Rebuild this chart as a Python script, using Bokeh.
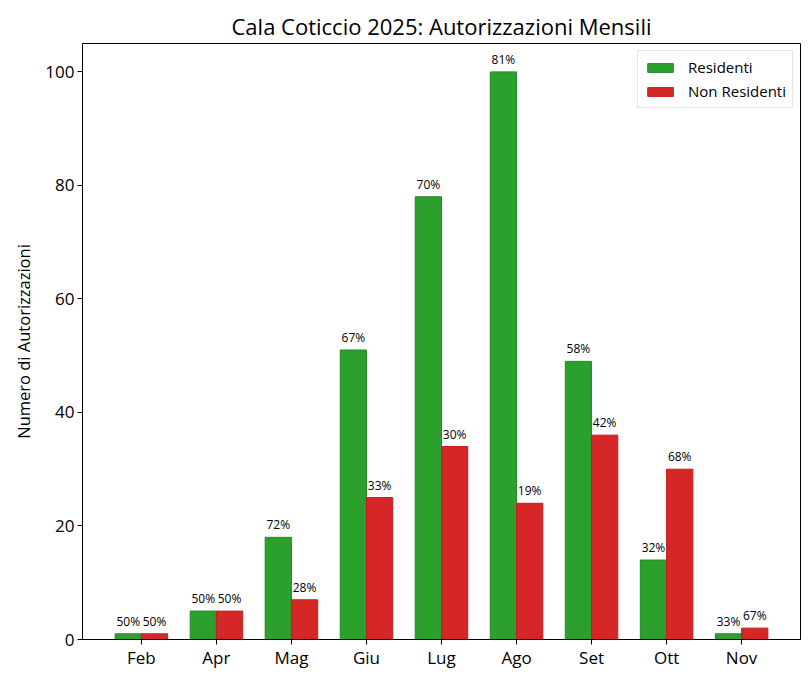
from bokeh.plotting import figure
from bokeh.models import Range1d, FixedTicker, ColumnDataSource, Legend, LegendItem
from bokeh.embed import file_html
from bokeh.resources import INLINE
from bokeh.core.properties import value

months = ["Feb", "Apr", "Mag", "Giu", "Lug", "Ago", "Set", "Ott", "Nov"]
residenti = [1, 5, 18, 51, 78, 100, 49, 14, 1]
non_residenti = [1, 5, 7, 25, 34, 24, 36, 30, 2]
y_ticks = [0, 20, 40, 60, 80, 100]

FONT = "Open Sans"
GREEN = "#2ca02c"
RED = "#d62728"
BW = 0.35

idx = list(range(len(months)))
tot = [r + n for r, n in zip(residenti, non_residenti)]
pct_r = [f"{round(r / t * 100)}%" for r, t in zip(residenti, tot)]
pct_n = [f"{round(n / t * 100)}%" for n, t in zip(non_residenti, tot)]

src_r = ColumnDataSource(dict(x=[i - BW / 2 for i in idx], top=residenti, lab=pct_r))
src_n = ColumnDataSource(dict(x=[i + BW / 2 for i in idx], top=non_residenti, lab=pct_n))

p = figure(width=802, height=678, output_backend="svg", toolbar_location=None,
           x_range=Range1d(-0.785, 8.785), y_range=Range1d(0, 105.0),
           min_border_left=82, min_border_right=2, min_border_top=43, min_border_bottom=39)

p.title.text = "Cala Coticcio 2025: Autorizzazioni Mensili"
p.title.align = "center"
p.title.text_font = FONT
p.title.text_font_size = "22px"
p.title.text_font_style = "normal"
p.title.text_color = "#000000"
p.title.standoff = 6

p.grid.visible = False
p.outline_line_color = "#000000"
p.outline_line_width = 1
p.background_fill_color = "white"
p.border_fill_color = "white"

p.xaxis.ticker = FixedTicker(ticks=idx)
p.xaxis.major_label_overrides = {i: m for i, m in enumerate(months)}
p.yaxis.ticker = FixedTicker(ticks=y_ticks)
for ax in (p.xaxis, p.yaxis):
    ax.major_tick_in = 0
    ax.major_tick_out = 5
    ax.minor_tick_line_color = None
    ax.axis_line_color = "#000000"
    ax.major_tick_line_color = "#000000"
    ax.major_label_text_font = FONT
    ax.major_label_text_font_size = "17px"
    ax.major_label_text_color = "#000000"
    ax.major_label_standoff = 3
p.xaxis.major_label_standoff = 1
p.yaxis.axis_label = "Numero di Autorizzazioni"
p.yaxis.axis_label_text_font = FONT
p.yaxis.axis_label_text_font_size = "16.5px"
p.yaxis.axis_label_text_font_style = "normal"
p.yaxis.axis_label_text_color = "#000000"
p.yaxis.axis_label_standoff = 7

r1 = p.vbar(x="x", top="top", width=BW, source=src_r, fill_color=GREEN, line_color="#238a23", line_width=1)
r2 = p.vbar(x="x", top="top", width=BW, source=src_n, fill_color=RED, line_color="#c41e1e", line_width=1)

for s in (src_r, src_n):
    p.text(x="x", y="top", text="lab", source=s, text_align="center", text_baseline="bottom",
           y_offset=-4, text_font=value(FONT), text_font_size="12px", text_color="#000000")

legend = Legend(items=[LegendItem(label="Residenti", renderers=[r1]),
                       LegendItem(label="Non Residenti", renderers=[r2])],
                location="top_right")
legend.margin = 7
legend.padding = 6
legend.spacing = 4
legend.glyph_width = 32
legend.glyph_height = 11
legend.label_height = 18
legend.label_standoff = 12
legend.label_text_font = FONT
legend.label_text_font_size = "15px"
legend.label_text_color = "#000000"
legend.border_line_color = "#cccccc"
legend.border_line_width = 1
legend.background_fill_alpha = 0.8
p.add_layout(legend)

open("out.html", "w").write(file_html(p, INLINE))
